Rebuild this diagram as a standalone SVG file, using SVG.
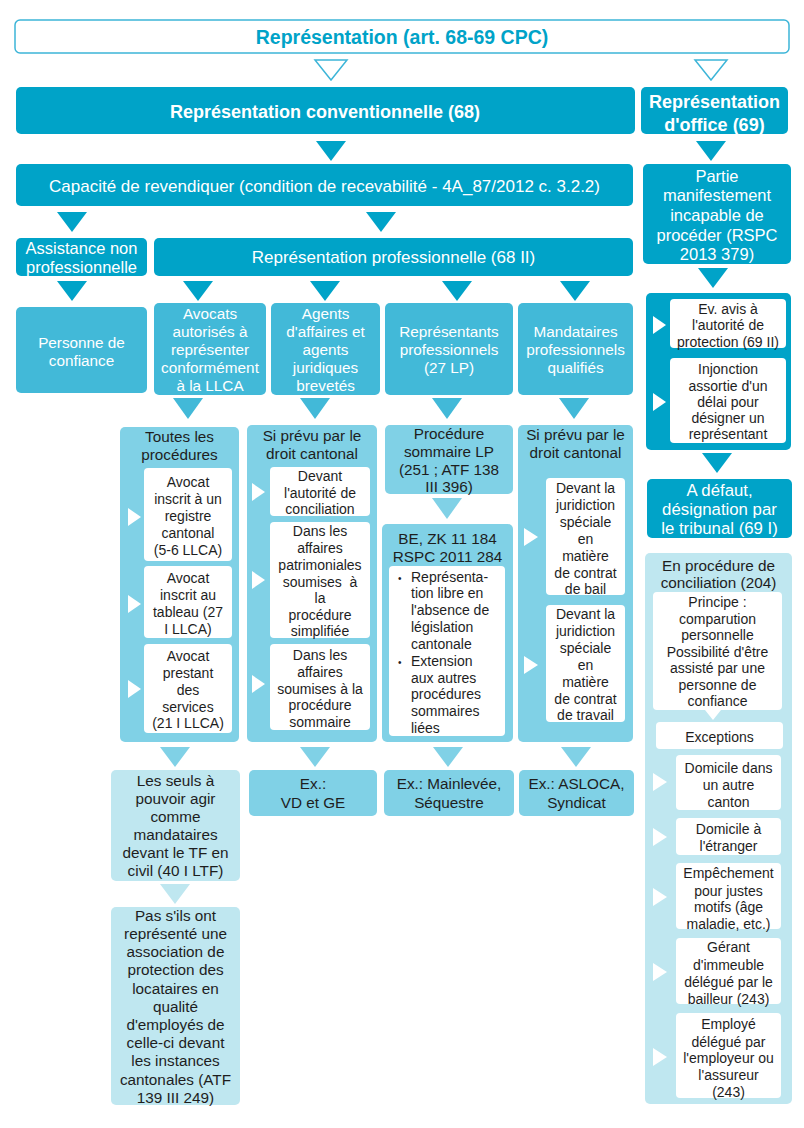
<svg xmlns="http://www.w3.org/2000/svg" width="804" height="1128" viewBox="0 0 804 1128">
<style>
.d{fill:#00A3C8}.m{fill:#42B9D8}.l{fill:#80D1E6}.x{fill:#BFE7F0}.w{fill:#fff}
.hol{fill:#fff;stroke:#3DB5D8;stroke-width:1.5}
text{font-family:"Liberation Sans",Arial,Helvetica,sans-serif;text-anchor:middle}
.tw{fill:#fff}.tk{fill:#1e1e1e}.tc{fill:#00A3C8}
.b{font-weight:bold}
.f14{font-size:14px}.f15{font-size:15.3px}.f16{font-size:16.5px}.f17{font-size:17px}.f18{font-size:18px}
.lt{text-anchor:start}
</style>
<rect width="804" height="1128" fill="#fff"/>

<g id="connectors">
  <polygon class="hol" points="315,60 347,60 331,80"/>
  <polygon class="hol" points="695,60 727,60 711,80"/>
  <g class="d">
    <polygon points="316,141 346,141 331,161"/>
    <polygon points="696,141 726,141 711,161"/>
    <polygon points="57,212 87,212 72,232"/>
    <polygon points="366,212 396,212 381,232"/>
    <polygon points="698,268 728,268 713,288"/>
    <polygon points="57,281 87,281 72,301"/>
    <polygon points="183,281 213,281 198,301"/>
    <polygon points="310,281 340,281 325,301"/>
    <polygon points="442,281 472,281 457,301"/>
    <polygon points="560,281 590,281 575,301"/>
    <polygon points="702,453 732,453 717,473"/>
  </g>
  <g class="m">
    <polygon points="173,398 203,398 188,419"/>
    <polygon points="300,398 330,398 315,419"/>
    <polygon points="432,398 462,398 447,419"/>
    <polygon points="559,398 589,398 574,419"/>
  </g>
  <g class="l">
    <polygon points="432,498 462,498 447,519"/>
    <polygon points="160,747 190,747 175,767"/>
    <polygon points="300,747 330,747 315,767"/>
    <polygon points="433,747 463,747 448,767"/>
    <polygon points="561,747 591,747 576,767"/>
  </g>
  <polygon class="x" points="160,884 190,884 175,904"/>
</g>

<g id="n-title">
  <rect x="15" y="20" width="774" height="33" rx="5" class="hol"/>
  <text x="402" y="44" class="tc b" style="font-size:19.5px">Représentation (art. 68-69 CPC)</text>
</g>

<g id="n-conventionnelle">
  <rect x="16" y="87" width="619" height="47" rx="5" class="d"/>
  <text x="325" y="117.5" class="tw b f18">Représentation conventionnelle (68)</text>
</g>

<g id="n-office">
  <rect x="641" y="87" width="147" height="47" rx="5" class="d"/>
  <text class="tw b f18"><tspan x="714.5" y="107.5">Représentation</tspan><tspan x="714.5" y="130.5">d'office (69)</tspan></text>
</g>

<g id="n-capacite">
  <rect x="16" y="164" width="617" height="42" rx="5" class="d"/>
  <text x="324.5" y="192" class="tw f17">Capacité de revendiquer (condition de recevabilité - 4A_87/2012 c. 3.2.2)</text>
</g>

<g id="n-partie">
  <rect x="643" y="164" width="148" height="100" rx="5" class="d"/>
  <text class="tw f16"><tspan x="717" y="182">Partie</tspan><tspan x="717" y="201">manifestement</tspan><tspan x="717" y="221">incapable de</tspan><tspan x="717" y="241">procéder (RSPC</tspan><tspan x="717" y="260">2013 379)</tspan></text>
</g>

<g id="n-assistance">
  <rect x="16" y="238" width="131" height="38" rx="5" class="d"/>
  <text class="tw f16"><tspan x="81.5" y="254">Assistance non</tspan><tspan x="81.5" y="273">professionnelle</tspan></text>
</g>

<g id="n-reppro">
  <rect x="154" y="238" width="479" height="38" rx="5" class="d"/>
  <text x="393.5" y="263" class="tw f17">Représentation professionnelle (68 II)</text>
</g>

<g id="n-personne">
  <rect x="16" y="307" width="131" height="86" rx="5" class="m"/>
  <text class="tw f15"><tspan x="81.5" y="347.5">Personne de</tspan><tspan x="81.5" y="365.5">confiance</tspan></text>
</g>

<g id="n-avocats">
  <rect x="154" y="303" width="112" height="92" rx="5" class="m"/>
  <text class="tw f15"><tspan x="210" y="318.5">Avocats</tspan><tspan x="210" y="336.5">autorisés à</tspan><tspan x="210" y="355">représenter</tspan><tspan x="210" y="373">conformément</tspan><tspan x="210" y="391">à la LLCA</tspan></text>
</g>

<g id="n-agents">
  <rect x="271" y="303" width="109" height="92" rx="5" class="m"/>
  <text class="tw f15"><tspan x="325.5" y="318.5">Agents</tspan><tspan x="325.5" y="336.5">d'affaires et</tspan><tspan x="325.5" y="355">agents</tspan><tspan x="325.5" y="373">juridiques</tspan><tspan x="325.5" y="391">brevetés</tspan></text>
</g>

<g id="n-representants">
  <rect x="385" y="303" width="128" height="92" rx="5" class="m"/>
  <text class="tw f15"><tspan x="449" y="336.5">Représentants</tspan><tspan x="449" y="355">professionnels</tspan><tspan x="449" y="373">(27 LP)</tspan></text>
</g>

<g id="n-mandataires">
  <rect x="518" y="303" width="115" height="92" rx="5" class="m"/>
  <text class="tw f15"><tspan x="575.5" y="336.5">Mandataires</tspan><tspan x="575.5" y="355">professionnels</tspan><tspan x="575.5" y="373">qualifiés</tspan></text>
</g>

<g id="n-toutes">
  <rect x="120" y="427" width="119" height="315" rx="5" class="l"/>
  <text class="tk f15"><tspan x="179.5" y="441.5">Toutes les</tspan><tspan x="179.5" y="459.5">procédures</tspan></text>
  <rect x="144" y="468" width="88" height="93" rx="4" class="w"/>
  <text class="tk f14"><tspan x="188" y="487">Avocat</tspan><tspan x="188" y="504">inscrit à un</tspan><tspan x="188" y="521">registre</tspan><tspan x="188" y="538">cantonal</tspan><tspan x="188" y="555">(5-6 LLCA)</tspan></text>
  <rect x="144" y="566" width="88" height="72" rx="4" class="w"/>
  <text class="tk f14"><tspan x="188" y="583">Avocat</tspan><tspan x="188" y="600">inscrit au</tspan><tspan x="188" y="617">tableau (27</tspan><tspan x="188" y="634">I LLCA)</tspan></text>
  <rect x="144" y="644" width="88" height="89" rx="4" class="w"/>
  <text class="tk f14"><tspan x="188" y="661">Avocat</tspan><tspan x="188" y="678">prestant</tspan><tspan x="188" y="695">des</tspan><tspan x="188" y="712">services</tspan><tspan x="188" y="728">(21 I LLCA)</tspan></text>
  <g class="w">
    <polygon points="128,508 128,526 141,517"/>
    <polygon points="128,595 128,613 141,604"/>
    <polygon points="128,680 128,698 141,689"/>
  </g>
</g>

<g id="n-siprevu1">
  <rect x="247" y="425" width="130" height="317" rx="5" class="l"/>
  <text class="tk f15"><tspan x="312" y="440.5">Si prévu par le</tspan><tspan x="312" y="458.5">droit cantonal</tspan></text>
  <rect x="270" y="467" width="100" height="49" rx="4" class="w"/>
  <text class="tk f14"><tspan x="320" y="481">Devant</tspan><tspan x="320" y="498">l'autorité de</tspan><tspan x="320" y="514">conciliation</tspan></text>
  <rect x="270" y="522" width="100" height="116" rx="4" class="w"/>
  <text class="tk f14" xml:space="preserve"><tspan x="320" y="536">Dans les</tspan><tspan x="320" y="553">affaires</tspan><tspan x="320" y="570">patrimoniales</tspan><tspan x="320" y="587">soumises  à</tspan><tspan x="320" y="603">la</tspan><tspan x="320" y="620">procédure</tspan><tspan x="320" y="636">simplifiée</tspan></text>
  <rect x="270" y="644" width="100" height="86" rx="4" class="w"/>
  <text class="tk f14"><tspan x="320" y="660">Dans les</tspan><tspan x="320" y="677">affaires</tspan><tspan x="320" y="694">soumises à la</tspan><tspan x="320" y="710">procédure</tspan><tspan x="320" y="727">sommaire</tspan></text>
  <g class="w">
    <polygon points="252,483 252,501 265,492"/>
    <polygon points="252,571 252,589 265,580"/>
    <polygon points="252,675 252,693 265,684"/>
  </g>
</g>

<g id="n-procsommaire">
  <rect x="385" y="425" width="128" height="69" rx="5" class="l"/>
  <text class="tk f15"><tspan x="449" y="438.5">Procédure</tspan><tspan x="449" y="457">sommaire LP</tspan><tspan x="449" y="474.5">(251 ; ATF 138</tspan><tspan x="449" y="492">III 396)</tspan></text>
</g>

<g id="n-be">
  <rect x="382" y="524" width="131" height="218" rx="5" class="l"/>
  <text class="tk f15"><tspan x="447.5" y="543.5">BE, ZK 11 184</tspan><tspan x="447.5" y="561.5">RSPC 2011 284</tspan></text>
  <rect x="389" y="566" width="116" height="170" rx="4" class="w"/>
  <text class="tk f14 lt"><tspan x="398" y="582" style="font-size:10px">•</tspan><tspan x="411" y="582">Représenta-</tspan><tspan x="411" y="598">tion libre en</tspan><tspan x="411" y="615">l'absence de</tspan><tspan x="411" y="632">législation</tspan><tspan x="411" y="649">cantonale</tspan><tspan x="398" y="666" style="font-size:10px">•</tspan><tspan x="411" y="666">Extension</tspan><tspan x="411" y="683">aux autres</tspan><tspan x="411" y="699">procédures</tspan><tspan x="411" y="716">sommaires</tspan><tspan x="411" y="733">liées</tspan></text>
</g>

<g id="n-siprevu2">
  <rect x="518" y="425" width="115" height="317" rx="5" class="l"/>
  <text class="tk f15"><tspan x="575.5" y="439.5">Si prévu par le</tspan><tspan x="575.5" y="457.5">droit cantonal</tspan></text>
  <rect x="546" y="478" width="79" height="117" rx="4" class="w"/>
  <text class="tk f14"><tspan x="585.5" y="493">Devant la</tspan><tspan x="585.5" y="510">juridiction</tspan><tspan x="585.5" y="527">spéciale</tspan><tspan x="585.5" y="544">en</tspan><tspan x="585.5" y="561">matière</tspan><tspan x="585.5" y="578">de contrat</tspan><tspan x="585.5" y="594">de bail</tspan></text>
  <rect x="546" y="605" width="79" height="117" rx="4" class="w"/>
  <text class="tk f14"><tspan x="585.5" y="619">Devant la</tspan><tspan x="585.5" y="636">juridiction</tspan><tspan x="585.5" y="653">spéciale</tspan><tspan x="585.5" y="670">en</tspan><tspan x="585.5" y="687">matière</tspan><tspan x="585.5" y="704">de contrat</tspan><tspan x="585.5" y="720">de travail</tspan></text>
  <g class="w">
    <polygon points="524,528 524,546 538,537"/>
    <polygon points="524,656 524,674 538,665"/>
  </g>
</g>

<g id="n-seuls">
  <rect x="111" y="770" width="129" height="111" rx="5" class="x"/>
  <text class="tk f15"><tspan x="175.5" y="785.5">Les seuls à</tspan><tspan x="175.5" y="804">pouvoir agir</tspan><tspan x="175.5" y="822">comme</tspan><tspan x="175.5" y="840">mandataires</tspan><tspan x="175.5" y="858">devant le TF en</tspan><tspan x="175.5" y="876">civil (40 I LTF)</tspan></text>
</g>

<g id="n-pas">
  <rect x="111" y="907" width="129" height="198" rx="5" class="x"/>
  <text class="tk f15"><tspan x="175.5" y="920.5">Pas s'ils ont</tspan><tspan x="175.5" y="939">représenté une</tspan><tspan x="175.5" y="957">association de</tspan><tspan x="175.5" y="975">protection des</tspan><tspan x="175.5" y="993.5">locataires en</tspan><tspan x="175.5" y="1011.5">qualité</tspan><tspan x="175.5" y="1030">d'employés de</tspan><tspan x="175.5" y="1048">celle-ci devant</tspan><tspan x="175.5" y="1066">les instances</tspan><tspan x="175.5" y="1084.5">cantonales (ATF</tspan><tspan x="175.5" y="1102.5">139 III 249)</tspan></text>
</g>

<g id="n-exvd">
  <rect x="249" y="770" width="128" height="46" rx="5" class="l"/>
  <text class="tk f15"><tspan x="313" y="788.5">Ex.:</tspan><tspan x="313" y="807.5">VD et GE</tspan></text>
</g>

<g id="n-exmainlevee">
  <rect x="384" y="770" width="130" height="46" rx="5" class="l"/>
  <text class="tk f15"><tspan x="449" y="788.5">Ex.: Mainlevée,</tspan><tspan x="449" y="807.5">Séquestre</tspan></text>
</g>

<g id="n-exasloca">
  <rect x="519" y="770" width="115" height="46" rx="5" class="l"/>
  <text class="tk f15"><tspan x="576.5" y="788.5">Ex.: ASLOCA,</tspan><tspan x="576.5" y="807.5">Syndicat</tspan></text>
</g>

<g id="n-office-etapes">
  <rect x="646" y="293" width="145" height="157" rx="5" class="d"/>
  <rect x="670" y="299" width="116" height="49" rx="4" class="w"/>
  <text class="tk f14"><tspan x="728" y="314">Ev. avis à</tspan><tspan x="728" y="330">l'autorité de</tspan><tspan x="728" y="347">protection (69 II)</tspan></text>
  <rect x="670" y="358" width="116" height="85" rx="4" class="w"/>
  <text class="tk f14"><tspan x="728" y="374">Injonction</tspan><tspan x="728" y="391">assortie d'un</tspan><tspan x="728" y="407">délai pour</tspan><tspan x="728" y="423">désigner un</tspan><tspan x="728" y="439">représentant</tspan></text>
  <g class="w">
    <polygon points="653,316 653,334 666,325"/>
    <polygon points="653,393 653,411 666,402"/>
  </g>
</g>

<g id="n-adefaut">
  <rect x="647" y="479" width="145" height="59" rx="5" class="d"/>
  <text class="tw" style="font-size:16.8px"><tspan x="719.5" y="496">A défaut,</tspan><tspan x="719.5" y="515">désignation par</tspan><tspan x="719.5" y="534">le tribunal (69 I)</tspan></text>
</g>

<g id="n-conciliation">
  <rect x="645" y="553" width="147" height="551" rx="5" class="x"/>
  <text class="tk f15"><tspan x="718.5" y="570.5">En procédure de</tspan><tspan x="718.5" y="587.5">conciliation (204)</tspan></text>
  <path class="w" d="M657,592 H778 Q782,592 782,596 V706 Q782,710 778,710 H721 L713,720 L705,710 H657 Q653,710 653,706 V596 Q653,592 657,592 Z"/>
  <text class="tk f14"><tspan x="717.5" y="607">Principe :</tspan><tspan x="717.5" y="624">comparution</tspan><tspan x="717.5" y="640">personnelle</tspan><tspan x="717.5" y="657">Possibilité d'être</tspan><tspan x="717.5" y="673">assisté par une</tspan><tspan x="717.5" y="690">personne de</tspan><tspan x="717.5" y="706">confiance</tspan></text>
  <rect x="656" y="722" width="127" height="27" rx="4" class="w"/>
  <text x="719.5" y="742" class="tk f14">Exceptions</text>
  <rect x="676" y="755" width="105" height="55" rx="4" class="w"/>
  <text class="tk f14"><tspan x="728.5" y="773">Domicile dans</tspan><tspan x="728.5" y="790">un autre</tspan><tspan x="728.5" y="807">canton</tspan></text>
  <rect x="676" y="818" width="105" height="37" rx="4" class="w"/>
  <text class="tk f14"><tspan x="728.5" y="834">Domicile à</tspan><tspan x="728.5" y="851">l'étranger</tspan></text>
  <rect x="676" y="863" width="105" height="66" rx="4" class="w"/>
  <text class="tk f14"><tspan x="728.5" y="878">Empêchement</tspan><tspan x="728.5" y="896">pour justes</tspan><tspan x="728.5" y="912">motifs (âge</tspan><tspan x="728.5" y="929">maladie, etc.)</tspan></text>
  <rect x="676" y="938" width="105" height="66" rx="4" class="w"/>
  <text class="tk f14"><tspan x="728.5" y="952">Gérant</tspan><tspan x="728.5" y="970">d'immeuble</tspan><tspan x="728.5" y="987">délégué par le</tspan><tspan x="728.5" y="1004">bailleur (243)</tspan></text>
  <rect x="676" y="1013" width="105" height="85" rx="4" class="w"/>
  <text class="tk f14"><tspan x="728.5" y="1029">Employé</tspan><tspan x="728.5" y="1047">délégué par</tspan><tspan x="728.5" y="1063">l'employeur ou</tspan><tspan x="728.5" y="1080">l'assureur</tspan><tspan x="728.5" y="1097">(243)</tspan></text>
  <g class="w">
    <polygon points="653,773 653,791 667,782"/>
    <polygon points="653,828 653,846 667,837"/>
    <polygon points="653,888 653,906 667,897"/>
    <polygon points="653,963 653,981 667,972"/>
    <polygon points="653,1048 653,1066 667,1057"/>
  </g>
</g>
</svg>
